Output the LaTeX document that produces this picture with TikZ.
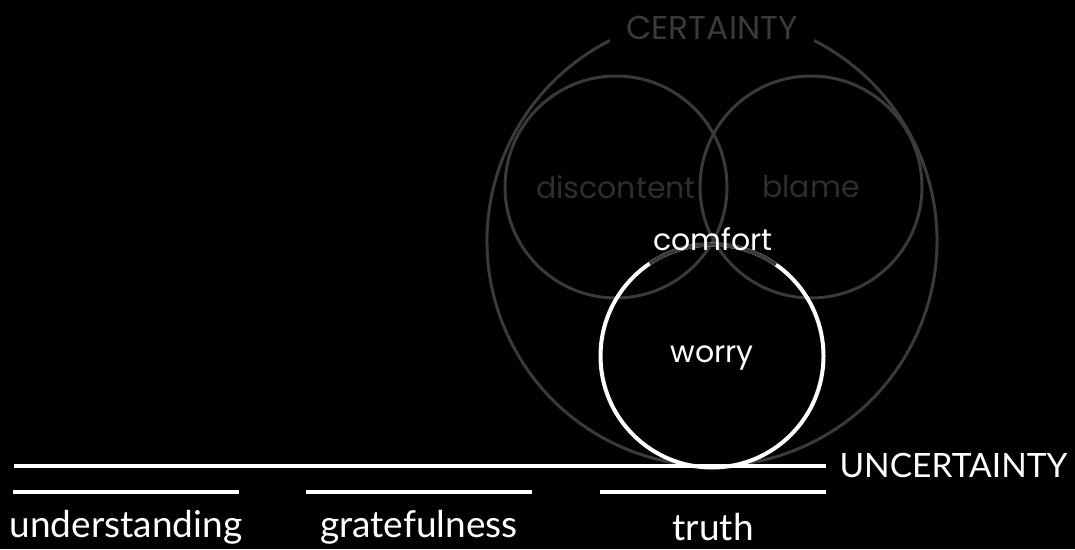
\documentclass[tikz,border=0pt]{standalone}
\usepackage{fontspec}
\setmainfont{Lato}
\newfontfamily\roundfont{Poppins}
\usepackage{tikz}
\usetikzlibrary{positioning}
\definecolor{ringgray}{HTML}{3A3A3A}
\definecolor{wordgray}{HTML}{2E2E2E}

\begin{document}
\begin{tikzpicture}[x=1pt, y=1pt,
    ring/.style={circle, draw=ringgray, line width=3pt, minimum size=222pt, inner sep=0pt},
    fear/.style={circle, draw=white, line width=4pt, minimum size=223pt, inner sep=0pt},
    dim/.style={text=wordgray, font=\roundfont\fontsize{30}{32}\selectfont},
    bright/.style={text=white, font=\roundfont\fontsize{30}{32}\selectfont},
    word/.style={text=white, font=\fontsize{37}{39}\selectfont},
    bar/.style={draw=white, line width=4pt}
]
\fill[black] (0,0) rectangle (1075,549);
\useasboundingbox (0,0) rectangle (1075,549);

% outer ring with a gap for the heading
\coordinate (certc) at (712,308);
\draw[ringgray, line width=3pt] (certc) ++(117:225) arc[start angle=117, end angle=423, radius=225];
\node[text=ringgray, font=\roundfont\fontsize{33}{35}\selectfont] (certainty) at (712,521) {CERTAINTY};

% the two upper rings
\node[ring] (discontent) at (616,362) {};
\node[ring] (blame) at (811,362) {};
\node[dim] at (discontent) {discontent};
\node[dim] at (blame) {blame};

% worry ring, grey where it meets the others
\node[fear] (worry) at (712,193) {};
\draw[ringgray, line width=4pt] (worry.center) ++(55:111.5) arc[start angle=55, end angle=124, radius=111.5];
\node[bright, below=-14pt of worry.center] {worry};
\node[bright] (comfort) at (713,310) {comfort};

% ground line
\coordinate (groundL) at (14,83);
\coordinate (groundR) at (826,83);
\draw[bar] (groundL) -- (groundR);
\node[word, font=\fontsize{33.5}{35}\selectfont, anchor=west] (uncertainty) at (836,83) {UNCERTAINTY};

% the three paths
\foreach \name/\x in {understanding/126, gratefulness/419, truth/713} {
    \node[word] (\name) at (\x,22) {\name};
    \draw[bar] (\x-113,57) -- (\x+113,57);
}
\end{tikzpicture}
\end{document}
